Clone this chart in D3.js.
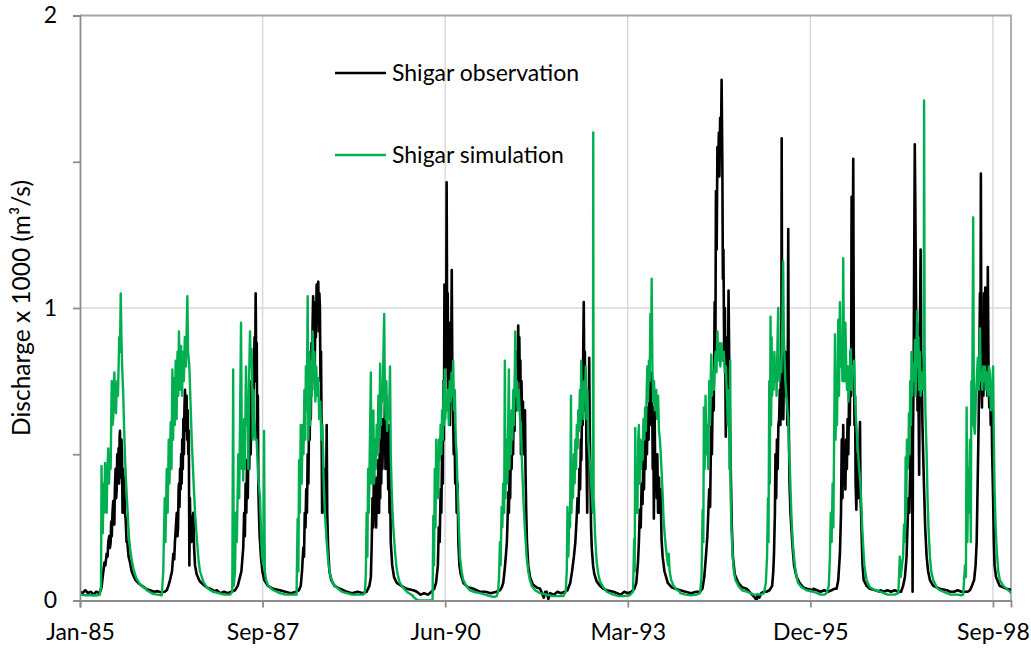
<!DOCTYPE html>
<html>
<head>
<meta charset="utf-8">
<script src="https://cdn.jsdelivr.net/npm/d3@7"></script>
<style>
  html, body { margin: 0; padding: 0; background: #fff; }
  svg text { font-family: Lato, "Noto Sans", sans-serif; fill: #000; }
</style>
</head>
<body>
<svg id="chart" width="1031" height="648"></svg>
<script>
// Axis setup: x ticks every 1000 days from the first day of record
const startDate = "1985-01-01";
const axisEndDate = "1998-12-18";
const xTickStepDays = 1000;
const xTickLabels = ["Jan-85", "Sep-87", "Jun-90", "Mar-93", "Dec-95", "Sep-98"];
const yTicks = [0, 0.5, 1, 1.5, 2];
const yTickLabels = ["0", "", "1", "", "2"];
const yGrid = [1];
const seriesNames = ["Shigar observation", "Shigar simulation"];
const yTitle = "Discharge x 1000 (m³/s)";

// Observed discharge (x 1000 m3/s) by year: [day of year, value]
const observed = [
  [1985, [[1,.03],[15,.025],[30,.035],[45,.025],[60,.03],[75,.02],[90,.03],[105,.025],[115,.035],[120,.05],[125,.08],[129,.1],[135,.13],[140,.12],[147,.16],[152,.15],[156,.2],[161,.22],[165,.18],[169,.2],[172,.27],[175,.22],[179,.3],[183,.34],[186,.28],[189,.26],[192,.38],[196,.45],[199,.35],[202,.38],[205,.5],[209,.4],[212,.52],[215,.4],[218,.56],[220,.58],[222,.45],[225,.42],[228,.55],[231,.5],[234,.3],[237,.45],[240,.38],[243,.42],[247,.3],[251,.28],[256,.2],[260,.2],[267,.15],[275,.13],[284,.1],[293,.085],[305,.07],[320,.06],[340,.05],[365,.04]]],
  [1986, [[1,.038],[20,.035],[40,.03],[60,.032],[80,.028],[100,.03],[111,.035],[120,.05],[129,.07],[140,.1],[147,.16],[152,.14],[156,.2],[161,.25],[166,.3],[170,.22],[173,.25],[176,.38],[178,.4],[181,.32],[184,.45],[187,.38],[190,.5],[193,.4],[196,.55],[199,.45],[202,.62],[205,.5],[208,.66],[211,.72],[214,.58],[217,.6],[220,.7],[223,.55],[226,.65],[229,.5],[232,.58],[235,.12],[238,.35],[242,.22],[247,.2],[252,.28],[257,.3],[261,.18],[266,.12],[275,.09],[285,.075],[293,.065],[310,.055],[330,.045],[348,.04],[365,.035]]],
  [1987, [[1,.03],[20,.035],[40,.025],[60,.03],[80,.025],[100,.03],[120,.035],[135,.05],[147,.08],[155,.1],[160,.14],[165,.18],[170,.3],[174,.22],[178,.4],[182,.3],[186,.48],[190,.35],[194,.58],[198,.45],[202,.65],[206,.5],[210,.75],[214,.6],[218,.8],[221,.65],[224,.8],[227,.9],[230,.75],[233,1.05],[236,.82],[239,.88],[242,.5],[245,.7],[248,.38],[251,.3],[255,.22],[262,.15],[270,.1],[280,.07],[300,.05],[330,.04],[365,.035]]],
  [1988, [[1,.035],[30,.03],[60,.025],[90,.03],[105,.035],[115,.05],[122,.1],[129,.18],[133,.15],[137,.3],[141,.25],[145,.38],[149,.3],[153,.5],[157,.4],[161,.65],[164,.55],[167,.75],[170,.62],[174,.88],[177,.72],[180,.95],[183,1.04],[186,.85],[189,.98],[192,.8],[195,1.02],[198,.9],[202,1.08],[205,.95],[208,1.05],[211,1.09],[214,.92],[217,1.05],[220,1.0],[223,.75],[226,.85],[229,.6],[232,.3],[235,.55],[238,.35],[242,.45],[246,.3],[250,.4],[254,.35],[257,.6],[260,.3],[265,.18],[272,.1],[282,.07],[300,.05],[330,.04],[365,.03]]],
  [1989, [[1,.03],[30,.025],[60,.03],[90,.025],[110,.03],[125,.05],[133,.08],[138,.2],[142,.35],[146,.25],[150,.45],[154,.3],[158,.38],[162,.25],[166,.42],[170,.3],[174,.48],[178,.3],[181,.5],[184,.35],[187,.55],[190,.4],[193,.62],[196,.45],[200,.55],[203,.62],[206,.5],[210,.68],[213,.45],[217,.7],[220,.5],[224,.6],[228,.38],[232,.6],[235,.3],[238,.45],[242,.2],[250,.12],[260,.08],[275,.06],[300,.05],[330,.04],[365,.035]]],
  [1990, [[1,.035],[20,.03],[40,.02],[60,.025],[80,.02],[100,.03],[115,.04],[125,.06],[135,.12],[140,.25],[145,.2],[150,.38],[154,.3],[158,.5],[162,.4],[165,.75],[168,.55],[171,1.08],[174,.7],[177,.95],[180,.8],[183,1.43],[186,.9],[189,1.05],[192,.7],[195,.95],[198,.8],[201,.6],[204,.95],[207,.75],[211,1.13],[214,.8],[218,.65],[222,.5],[226,.6],[230,.4],[234,.48],[238,.3],[243,.4],[247,.2],[253,.12],[260,.09],[275,.06],[300,.045],[330,.04],[365,.03]]],
  [1991, [[1,.03],[30,.03],[60,.025],[90,.03],[110,.035],[120,.045],[128,.06],[135,.1],[142,.15],[148,.2],[152,.28],[156,.37],[159,.3],[163,.45],[166,.35],[170,.55],[174,.45],[178,.62],[182,.5],[186,.7],[190,.58],[194,.78],[198,.65],[202,.85],[206,.72],[210,.94],[213,.8],[216,.9],[219,.75],[222,.82],[225,.5],[228,.75],[232,.6],[236,.68],[240,.5],[244,.58],[247,.65],[250,.45],[254,.3],[258,.2],[265,.12],[275,.08],[290,.055],[310,.045],[330,.04],[350,.01],[358,.03],[365,.03]]],
  [1992, [[1,.03],[10,.005],[20,.025],[40,.02],[60,.03],[80,.025],[100,.03],[115,.035],[130,.06],[140,.1],[150,.15],[158,.2],[165,.28],[170,.35],[175,.3],[180,.45],[184,.38],[188,.55],[191,.48],[195,.7],[198,.6],[201,.85],[204,1.02],[207,.75],[210,.85],[213,.65],[216,.72],[219,.5],[223,.3],[226,.6],[230,.5],[234,.83],[237,.55],[240,.45],[244,.25],[248,.18],[255,.12],[262,.09],[275,.065],[293,.05],[311,.04],[330,.035],[365,.03]]],
  [1993, [[1,.03],[20,.025],[40,.02],[60,.03],[80,.025],[100,.03],[115,.04],[126,.06],[135,.13],[140,.2],[145,.31],[150,.25],[155,.4],[160,.33],[164,.48],[168,.38],[172,.55],[176,.45],[180,.6],[184,.5],[189,.66],[193,.55],[197,.7],[200,.6],[204,.78],[208,.62],[212,.72],[216,.45],[219,.6],[222,.28],[226,.66],[230,.4],[234,.5],[238,.35],[241,.5],[245,.3],[250,.42],[255,.3],[259,.38],[264,.21],[270,.15],[280,.1],[298,.06],[320,.045],[340,.04],[365,.035]]],
  [1994, [[1,.035],[30,.03],[60,.025],[90,.03],[110,.03],[123,.04],[133,.08],[142,.15],[150,.22],[155,.3],[160,.38],[165,.32],[171,.6],[175,.5],[180,.75],[185,.65],[190,1.02],[194,.85],[197,1.4],[201,1.2],[205,1.55],[209,1.5],[213,1.6],[216,1.45],[220,1.65],[224,1.55],[228,1.78],[232,1.5],[235,1.1],[238,1.2],[242,.85],[246,1.0],[251,.56],[255,.75],[259,.9],[262,.7],[266,1.06],[270,.8],[274,.6],[278,.45],[284,.25],[290,.15],[300,.09],[320,.06],[340,.045],[365,.04]]],
  [1995, [[1,.04],[15,.03],[30,.02],[45,.01],[55,0],[60,.02],[70,.01],[80,.025],[95,.03],[109,.03],[125,.035],[140,.05],[146,.1],[150,.16],[155,.3],[158,.5],[162,.35],[166,.55],[170,.45],[174,.6],[178,.62],[182,.72],[185,.6],[188,.8],[190,.62],[192,1.58],[195,.7],[198,.85],[201,.62],[205,.8],[208,.7],[211,.85],[215,.75],[219,.8],[223,.6],[226,.9],[228,1.27],[231,.6],[235,.4],[240,.3],[246,.24],[252,.18],[260,.12],[274,.08],[290,.06],[310,.045],[330,.04],[365,.035]]],
  [1996, [[1,.04],[20,.035],[40,.03],[60,.035],[80,.03],[100,.035],[115,.04],[128,.04],[137,.07],[146,.16],[152,.3],[156,.55],[160,.35],[164,.6],[168,.4],[172,.5],[176,.38],[180,.55],[184,.45],[188,.62],[192,.5],[196,.7],[200,.6],[204,.85],[207,.7],[210,1.38],[213,.9],[216,1.1],[219,1.51],[222,.85],[226,.6],[229,.7],[232,.4],[236,.31],[240,.5],[245,.35],[250,.45],[256,.61],[259,.35],[262,.3],[266,.2],[270,.12],[276,.07],[292,.05],[310,.04],[340,.035],[365,.03]]],
  [1997, [[1,.035],[20,.03],[40,.035],[60,.03],[80,.035],[100,.03],[115,.03],[126,.05],[136,.08],[145,.15],[150,.25],[155,.35],[160,.3],[165,.45],[169,.67],[172,.5],[175,.6],[178,.03],[180,.55],[184,.8],[187,1.2],[190,1.56],[193,1.35],[196,1.1],[199,.85],[202,.95],[205,.65],[209,.8],[214,.43],[218,.9],[222,1.2],[225,.85],[228,.8],[232,.6],[236,.5],[241,.38],[247,.25],[255,.15],[263,.1],[273,.07],[291,.05],[327,.04],[365,.035]]],
  [1998, [[1,.035],[20,.03],[40,.03],[60,.035],[80,.03],[100,.03],[115,.03],[127,.035],[138,.05],[150,.07],[158,.12],[164,.2],[168,.35],[172,.5],[175,.62],[178,.8],[182,1.05],[185,.9],[187,1.46],[190,.75],[193,.66],[197,.95],[201,.7],[204,1.05],[207,.8],[211,1.07],[215,.75],[219,.95],[222,.7],[225,1.14],[229,.8],[233,.66],[237,.75],[241,.6],[245,.7],[249,.5],[254,.35],[258,.2],[262,.12],[270,.08],[290,.05],[328,.04],[365,.035]]]
];

// Simulated discharge (x 1000 m3/s) by year: [day of year, value]
const simulated = [
  [1985, [[1,.02],[30,.018],[60,.018],[90,.017],[110,.02],[116,.05],[119,.46],[122,.3],[126,.23],[130,.4],[134,.3],[138,.47],[142,.35],[147,.3],[151,.45],[156,.52],[160,.4],[164,.5],[169,.45],[172,.62],[175,.75],[179,.6],[183,.62],[186,.7],[189,.78],[193,.7],[198,.64],[202,.72],[205,.75],[209,.7],[213,.82],[216,.9],[220,.85],[224,1.05],[228,.9],[231,.82],[235,.75],[238,.7],[243,.58],[247,.5],[252,.42],[257,.36],[262,.3],[266,.25],[270,.21],[275,.18],[284,.14],[293,.11],[302,.09],[311,.075],[330,.055],[348,.045],[365,.04]]],
  [1986, [[1,.035],[20,.028],[40,.022],[60,.02],[84,.018],[92,.1],[100,.35],[104,.2],[111,.45],[116,.3],[122,.55],[126,.4],[133,.61],[137,.45],[142,.79],[146,.55],[150,.76],[155,.6],[160,.82],[165,.62],[170,.85],[174,.7],[178,.92],[183,.72],[190,.87],[195,.7],[200,.85],[205,.75],[210,.9],[216,.8],[221,.95],[224,1.04],[228,.85],[235,.8],[240,.7],[248,.55],[257,.42],[266,.3],[275,.22],[285,.14],[293,.1],[311,.065],[330,.045],[350,.035],[365,.03]]],
  [1987, [[1,.03],[30,.025],[60,.02],[92,.02],[105,.03],[110,.79],[113,.05],[120,.1],[125,.3],[130,.2],[138,.5],[143,.35],[153,.95],[158,.45],[162,.55],[165,.41],[170,.62],[174,.45],[180,.8],[186,.6],[190,.68],[193,.45],[197,.75],[202,.92],[206,.8],[211,.86],[215,.7],[217,.55],[222,.72],[226,.62],[232,.55],[239,.55],[247,.42],[257,.35],[264,.2],[269,.15],[275,.12],[279,.58],[283,.1],[290,.07],[302,.05],[330,.035],[365,.025]]],
  [1988, [[1,.025],[30,.02],[60,.02],[92,.02],[98,.28],[102,.1],[106,.48],[110,.3],[115,.6],[120,.4],[126,.6],[130,.5],[135,.72],[140,.55],[143,.8],[148,.65],[153,1.04],[157,.55],[162,.85],[167,.6],[172,.82],[176,.7],[180,.92],[185,.75],[190,.85],[195,.68],[200,.8],[206,.7],[211,.76],[216,.62],[222,.68],[228,.55],[234,.6],[240,.42],[247,.3],[257,.2],[266,.13],[275,.09],[290,.06],[311,.045],[340,.03],[365,.025]]],
  [1989, [[1,.025],[30,.02],[60,.02],[90,.02],[100,.025],[105,.08],[110,.3],[114,.15],[118,.45],[122,.3],[128,.55],[133,.78],[136,.4],[140,.6],[143,.5],[147,.65],[150,.4],[155,.55],[160,.45],[165,.6],[170,.5],[174,.7],[179,.55],[184,.81],[188,.6],[193,.72],[197,.68],[202,.85],[206,.98],[210,.7],[214,.62],[218,.75],[222,.58],[227,.65],[232,.62],[238,.8],[242,.5],[247,.38],[252,.3],[256,.25],[265,.17],[274,.11],[283,.08],[292,.06],[309,.045],[330,.03],[365,.015]]],
  [1990, [[1,.012],[15,.005],[30,0],[100,0],[106,.005],[110,.29],[114,.12],[118,.45],[122,.25],[126,.55],[130,.4],[134,.5],[137,.35],[141,.55],[145,.48],[150,.6],[154,.5],[158,.65],[162,.55],[166,.75],[169,.6],[173,.79],[176,.62],[180,.7],[185,.65],[190,.72],[195,.6],[200,.75],[205,.68],[210,.78],[215,.7],[219,.82],[223,.65],[228,.72],[233,.55],[238,.5],[243,.38],[247,.3],[252,.22],[256,.15],[265,.1],[274,.07],[290,.05],[310,.035],[330,.03],[365,.025]]],
  [1991, [[1,.025],[30,.02],[55,.015],[80,.012],[92,.015],[100,.03],[105,.08],[110,.2],[114,.12],[119,.32],[123,.25],[128,.4],[133,.3],[137,.82],[140,.35],[145,.55],[150,.4],[155,.6],[159,.79],[162,.45],[166,.6],[170,.5],[174,.65],[178,.55],[183,.72],[187,.6],[191,.75],[194,.92],[198,.7],[203,.75],[207,.65],[212,.72],[216,.68],[220,.62],[225,.6],[229,.5],[234,.42],[238,.35],[247,.24],[256,.15],[265,.1],[274,.07],[284,.05],[302,.035],[330,.025],[365,.02]]],
  [1992, [[1,.02],[30,.015],[60,.015],[92,.015],[105,.03],[111,.1],[115,.32],[120,.15],[125,.3],[129,.25],[134,.7],[137,.3],[141,.45],[145,.35],[150,.5],[154,.4],[158,.55],[162,.45],[166,.6],[170,.52],[174,.65],[178,.58],[183,.72],[187,.6],[190,.82],[194,.65],[198,.72],[202,.62],[206,.75],[211,.7],[215,.8],[219,.62],[224,.72],[229,.55],[234,.5],[240,.45],[245,.4],[250,.35],[254,.3],[256,1.6],[258,.35],[262,.3],[266,.22],[275,.13],[284,.09],[293,.065],[311,.045],[330,.03],[365,.02]]],
  [1993, [[1,.02],[30,.015],[60,.015],[90,.018],[108,.03],[114,.21],[117,.1],[120,.59],[123,.3],[128,.45],[132,.3],[136,.55],[140,.6],[144,.4],[148,.55],[152,.45],[155,.54],[160,.48],[165,.62],[170,.55],[174,.66],[178,.58],[183,.72],[186,.8],[190,.68],[195,.82],[199,.75],[203,.98],[207,.85],[210,1.1],[214,.8],[218,.68],[223,.75],[228,.65],[235,.72],[240,.62],[245,.7],[250,.58],[255,.55],[260,.5],[265,.43],[269,.38],[275,.28],[282,.22],[288,.18],[295,.14],[300,.12],[304,.16],[308,.1],[317,.07],[330,.05],[350,.035],[365,.03]]],
  [1994, [[1,.025],[30,.02],[60,.018],[90,.02],[110,.025],[118,.08],[124,.31],[128,.2],[131,.66],[135,.45],[140,.7],[145,.5],[150,.6],[155,.45],[160,.75],[164,.6],[171,.84],[175,.7],[180,.78],[185,.72],[190,.8],[195,.85],[200,.78],[205,.92],[210,.82],[216,.88],[221,.8],[228,.88],[233,.82],[240,.85],[245,.78],[251,.8],[257,.7],[262,.6],[268,.72],[271,.45],[275,.82],[278,.35],[282,.25],[288,.16],[295,.1],[304,.07],[320,.05],[340,.035],[365,.03]]],
  [1995, [[1,.03],[20,.025],[40,.02],[60,.02],[80,.02],[95,.025],[105,.06],[112,.15],[117,.35],[120,.2],[124,.75],[127,.4],[131,.97],[134,.6],[137,.9],[140,.7],[144,.82],[148,.72],[152,.85],[157,.75],[161,.8],[164,.7],[169,.88],[173,1.0],[176,.8],[180,.75],[185,.82],[190,.78],[195,.9],[200,1.16],[204,.9],[208,.82],[212,.75],[218,.7],[224,.65],[228,.62],[233,.5],[237,.45],[242,.35],[246,.28],[251,.22],[255,.18],[264,.12],[274,.08],[282,.06],[301,.045],[328,.035],[365,.03]]],
  [1996, [[1,.03],[20,.025],[40,.02],[60,.02],[73,.025],[85,.05],[91,.15],[96,.3],[101,.2],[106,.4],[110,.25],[115,.6],[119,.91],[122,.55],[126,.7],[130,.6],[137,.96],[141,.7],[146,1.02],[150,.8],[155,.88],[160,.75],[164,1.17],[168,.85],[172,.75],[176,.95],[180,.82],[185,.72],[189,.8],[193,.68],[197,.75],[201,.8],[205,.86],[209,.72],[214,.8],[219,.78],[224,.82],[228,.7],[232,.65],[236,.6],[241,.55],[246,.5],[251,.45],[256,.42],[262,.35],[268,.25],[274,.18],[280,.12],[292,.07],[310,.045],[340,.035],[365,.03]]],
  [1997, [[1,.03],[20,.025],[40,.02],[60,.02],[80,.02],[100,.025],[108,.15],[113,.08],[120,.12],[126,.15],[131,.26],[136,.2],[140,.49],[143,.3],[147,.55],[151,.45],[155,.5],[158,.64],[162,.5],[165,.75],[169,.6],[172,.85],[176,.7],[180,.8],[185,.81],[188,.75],[191,.89],[195,.7],[199,.85],[203,.99],[206,.8],[210,.9],[214,.72],[218,.85],[222,.7],[227,.78],[233,.75],[236,.72],[239,.8],[241,1.71],[244,.85],[248,.65],[255,.5],[260,.35],[265,.25],[273,.15],[280,.1],[291,.07],[310,.045],[327,.035],[365,.025]]],
  [1998, [[1,.025],[20,.02],[40,.02],[60,.02],[80,.018],[90,.02],[100,.12],[105,.08],[109,.66],[113,.2],[118,.45],[122,.3],[127,.55],[132,.2],[135,.75],[139,.6],[145,1.31],[149,.6],[154,.57],[160,.7],[164,.75],[170,.83],[175,.72],[182,.93],[186,.75],[190,.78],[195,.72],[200,.8],[205,.75],[209,.8],[215,.72],[220,.78],[226,.7],[231,.8],[236,.78],[242,.65],[249,.72],[254,.8],[257,.6],[262,.38],[268,.25],[273,.18],[282,.1],[291,.07],[310,.05],[328,.04],[365,.02]]]
];

const colors = { observed: "#000000", simulated: "#00b050" };

// Turn [year, [[doy, value]]] groups into dated points
function toPoints(groups) {
  const pts = [];
  groups.forEach(([year, rows]) => {
    const jan1 = new Date(Date.UTC(year, 0, 1));
    rows.forEach(([doy, v]) => pts.push({ date: d3.utcDay.offset(jan1, doy - 1), value: v }));
  });
  return pts;
}

const obsPts = toPoints(observed);
const simPts = toPoints(simulated);

const svg = d3.select("#chart");
const plot = { left: 80, right: 1011, top: 15.5, bottom: 600.5 };

const t0 = d3.utcParse("%Y-%m-%d")(startDate);
const t1 = d3.utcParse("%Y-%m-%d")(axisEndDate);
const x = d3.scaleUtc().domain([t0, t1]).range([plot.left, plot.right]);
const y = d3.scaleLinear().domain([0, 2]).range([plot.bottom, plot.top]);

const xTickDates = xTickLabels.map((_, i) => d3.utcDay.offset(t0, i * xTickStepDays));

svg.append("rect").attr("width", 1031).attr("height", 648).attr("fill", "#fff");

// Gridlines
const grid = svg.append("g").attr("stroke", "#d9d9d9").attr("stroke-width", 1.5);
grid.selectAll("line.v").data(xTickDates.slice(1)).join("line")
  .attr("x1", d => x(d)).attr("x2", d => x(d))
  .attr("y1", plot.top).attr("y2", plot.bottom);
grid.selectAll("line.h").data(yGrid).join("line")
  .attr("x1", plot.left).attr("x2", plot.right)
  .attr("y1", d => y(d)).attr("y2", d => y(d));

// Plot-area border (top and right)
svg.append("path")
  .attr("d", `M${plot.left},${plot.top}H${plot.right}V${plot.bottom}`)
  .attr("fill", "none").attr("stroke", "#a6a6a6").attr("stroke-width", 1.8);

// Series
svg.append("clipPath").attr("id", "clip").append("rect")
  .attr("x", plot.left).attr("y", plot.top - 2)
  .attr("width", plot.right - plot.left).attr("height", plot.bottom - plot.top + 2);

const line = d3.line().x(d => x(d.date)).y(d => y(d.value));
const series = svg.append("g").attr("clip-path", "url(#clip)");
series.append("path").datum(obsPts).attr("d", line)
  .attr("fill", "none").attr("stroke", colors.observed)
  .attr("stroke-width", 2.6).attr("stroke-linejoin", "round");
series.append("path").datum(simPts).attr("d", line)
  .attr("fill", "none").attr("stroke", colors.simulated)
  .attr("stroke-width", 2.4).attr("stroke-linejoin", "round");

// Axes
const xAxis = d3.axisBottom(x).tickValues(xTickDates).tickSize(7).tickPadding(16)
  .tickFormat((d, i) => xTickLabels[i]);
const gx = svg.append("g").attr("transform", `translate(0,${plot.bottom})`).call(xAxis);
const yAxis = d3.axisLeft(y).tickValues(yTicks).tickSize(7).tickPadding(16)
  .tickFormat((d, i) => yTickLabels[i]);
const gy = svg.append("g").attr("transform", `translate(${plot.left},0)`).call(yAxis);

[gx, gy].forEach(g => {
  g.select(".domain").attr("stroke", "#8c8c8c").attr("stroke-width", 1.8);
  g.selectAll(".tick line").attr("stroke", "#8c8c8c").attr("stroke-width", 1.8);
  g.selectAll(".tick text").attr("font-size", 23).attr("fill", "#000")
    .style("font-family", "Lato, 'Noto Sans', sans-serif");
});

// Y-axis title
svg.append("text")
  .attr("transform", `translate(30,${(plot.top + plot.bottom) / 2}) rotate(-90)`)
  .attr("text-anchor", "middle")
  .attr("font-size", 24.5)
  .text(yTitle);

// Legend
const legendRows = [
  { name: seriesNames[0], color: colors.observed, y: 73 },
  { name: seriesNames[1], color: colors.simulated, y: 155 }
];
const lg = svg.append("g");
legendRows.forEach(r => {
  lg.append("line").attr("x1", 335).attr("x2", 386).attr("y1", r.y).attr("y2", r.y)
    .attr("stroke", r.color).attr("stroke-width", 2.4);
  lg.append("text").attr("x", 392).attr("y", r.y).attr("dy", "0.35em")
    .attr("font-size", 23).text(r.name);
});
</script>
</body>
</html>
